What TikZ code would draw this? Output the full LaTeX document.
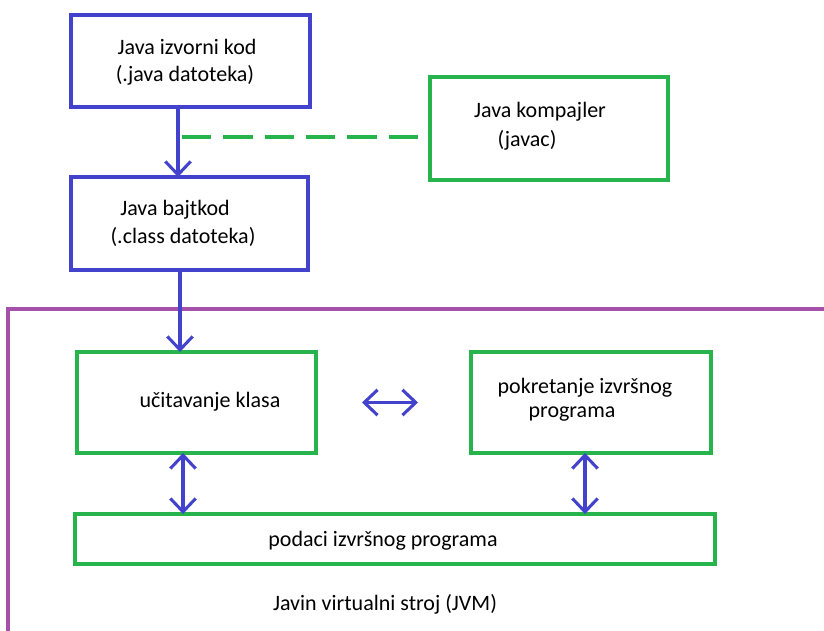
\documentclass[tikz,border=0pt]{standalone}
\usepackage{fontspec}
\setmainfont{Carlito}
\usetikzlibrary{positioning}
\usetikzlibrary{arrows.meta}

\definecolor{javablue}{RGB}{66,66,204}
\definecolor{javagreen}{RGB}{40,180,76}
\definecolor{jvmpurple}{RGB}{165,80,170}

\tikzset{
    bluebox/.style={draw=javablue, line width=2.3pt, inner sep=0pt, outer sep=0pt},
    greenbox/.style={draw=javagreen, line width=2.3pt, inner sep=0pt, outer sep=0pt},
    lbl/.style={font=\fontsize{16.5}{20}\selectfont, inner sep=0pt},
    arr/.style={draw=javablue, line width=2.3pt, -{Straight Barb[length=10pt,width=19pt,line width=2.3pt]}},
    darr/.style={draw=javablue, line width=2.3pt, {Straight Barb[length=10pt,width=19pt,line width=2.3pt]}-{Straight Barb[length=10pt,width=19pt,line width=2.3pt]}},
    dashline/.style={draw=javagreen, line width=2.4pt, dash pattern=on 22pt off 9pt}
}

\begin{document}
\begin{tikzpicture}[x=0.75pt, y=-0.75pt]
    \useasboundingbox (0,0) rectangle (824,631);
    \clip (0,0) rectangle (824,631);

    % JVM frame (open to the right and bottom)
    \draw[draw=jvmpurple, line width=2.3pt] (8,660) -- (8,309) -- (850,309);

    % boxes
    \node[bluebox, minimum width=179.25pt, minimum height=69pt] (izvorni) at (190.5,61) {};
    \node[bluebox, minimum width=177.75pt, minimum height=69.75pt] (bajtkod) at (189.5,223.5) {};
    \node[greenbox, minimum width=178.5pt, minimum height=77.25pt] (kompajler) at (549,128.5) {};
    \node[greenbox, minimum width=179.25pt, minimum height=75.75pt] (ucitavanje) at (196.5,402.5) {};
    \node[greenbox, minimum width=180pt, minimum height=75.75pt] (pokretanje) at (591,402.5) {};
    \node[greenbox, minimum width=480pt, minimum height=37.5pt] (podaci) at (395,539) {};

    % texts
    \node[lbl] (izvorni1) at (187,47) {Java izvorni kod};
    \node[lbl] (izvorni2) at (185,75) {(.java datoteka)};
    \node[lbl] (bajtkod1) at (175,210) {Java bajtkod};
    \node[lbl] (bajtkod2) at (183,237) {(.class datoteka)};
    \node[lbl] (kompajler1) at (540,112) {Java kompajler};
    \node[lbl] (kompajler2) at (527,140) {(javac)};
    \node[lbl] (ucitavanje1) at (210,402) {učitavanje klasa};
    \node[lbl] (pokretanje1) at (585,388) {pokretanje izvršnog};
    \node[lbl] (pokretanje2) at (572,414) {programa};
    \node[lbl] (podaci1) at (383,541) {podaci izvršnog programa};
    \node[lbl] (jvm) at (385,604) {Javin virtualni stroj (JVM)};

    % connectors
    \coordinate (kodx) at (178,0);
    \coordinate (ucix) at (183,0);
    \coordinate (pokx) at (585,0);
    \coordinate (crta) at (182,137);
    \draw[arr] (izvorni.south -| kodx) -- (bajtkod.north -| kodx);
    \draw[dashline] (crta) -- ([xshift=-7.5pt]crta -| kompajler.west);
    \draw[arr] (bajtkod.south -| 180,0) -- (ucitavanje.north -| 180,0);
    \draw[darr, shorten <=34.5pt, shorten >=39.75pt] (ucitavanje.east) -- (pokretanje.west);
    \draw[darr] (ucitavanje.south -| ucix) -- (podaci.north -| ucix);
    \draw[darr] (pokretanje.south -| pokx) -- (podaci.north -| pokx);
\end{tikzpicture}
\end{document}
